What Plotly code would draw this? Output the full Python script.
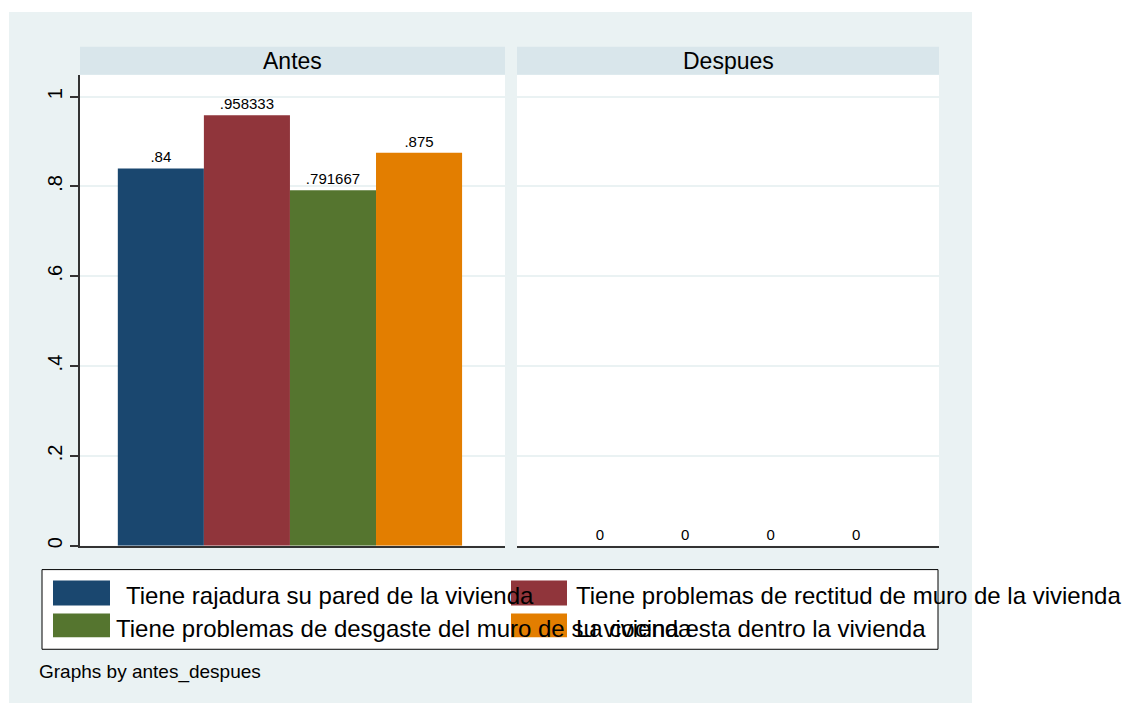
import plotly.graph_objects as go

W, H = 1138, 707
# the page body adds an 8px margin, so positions are shifted back by that much
OFF = 8

# data
panels = ["Antes", "Despues"]
variables = [
    " Tiene rajadura su pared de la vivienda",
    "Tiene problemas de rectitud de muro de la vivienda",
    "Tiene problemas de desgaste del muro de su vivienda",
    "La cocina esta dentro la vivienda",
]
antes = [0.84, 0.958333, 0.791667, 0.875]
despues = [0, 0, 0, 0]
colors = ["#1a476f", "#90353b", "#55752f", "#e37e00"]
ytick_vals = [0, 0.2, 0.4, 0.6, 0.8, 1]
ytick_text = ["0", ".2", ".4", ".6", ".8", "1"]


def px(x):
    return (x - OFF) / W


def py(y):
    return 1 - (y - OFF) / H


def stata_label(v):
    s = f"{v:.6g}"
    if s.startswith("0."):
        s = s[1:]
    return s


FONT = "Liberation Sans, Arial, sans-serif"

fig = go.Figure()

for i, var in enumerate(variables):
    for vals, xa, ya, panel in [(antes, "x", "y", "Antes"), (despues, "x2", "y2", "Despues")]:
        fig.add_trace(go.Bar(
            x=[panel],
            y=[vals[i]],
            xaxis=xa,
            yaxis=ya,
            name=var,
            marker=dict(color=colors[i], line=dict(width=0)),
            text=[stata_label(vals[i])],
            textposition="outside",
            textfont=dict(size=15, color="black", family=FONT),
            cliponaxis=False,
            showlegend=False,
        ))

# background, panel areas, strip headers
shapes = [
    dict(type="rect", xref="paper", yref="paper", x0=px(9), x1=px(972), y0=py(706), y1=py(12),
         fillcolor="#eaf2f3", line=dict(width=0), layer="below"),
]
panel_px = [(80, 505), (517, 939)]
annotations = []
for (x0, x1), name in zip(panel_px, panels):
    shapes.append(dict(type="rect", xref="paper", yref="paper", x0=px(x0), x1=px(x1), y0=py(548), y1=py(75),
                       fillcolor="white", line=dict(width=0), layer="below"))
    shapes.append(dict(type="rect", xref="paper", yref="paper", x0=px(x0), x1=px(x1), y0=py(75), y1=py(47),
                       fillcolor="#d9e6eb", line=dict(width=0), layer="below"))
    annotations.append(dict(text=name, xref="paper", yref="paper", x=px((x0 + x1) / 2), y=py(61),
                            xanchor="center", yanchor="middle", showarrow=False,
                            font=dict(size=23, color="black", family=FONT)))

# legend box
shapes.append(dict(type="rect", xref="paper", yref="paper", x0=px(42), x1=px(938), y0=py(652), y1=py(572),
                   fillcolor="white", line=dict(color="black", width=1), layer="below"))
swatches = [(53, 110, 583, 608), (511, 567, 583, 608), (53, 110, 616, 640), (511, 567, 616, 640)]
text_x = [124, 574, 114, 574]
for i, (sx0, sx1, sy0, sy1) in enumerate(swatches):
    shapes.append(dict(type="rect", xref="paper", yref="paper", x0=px(sx0), x1=px(sx1), y0=py(sy1), y1=py(sy0),
                       fillcolor=colors[i], line=dict(width=0)))
    annotations.append(dict(text=variables[i].strip(),
                            xref="paper", yref="paper", x=px(text_x[i]), y=py((sy0 + sy1) / 2 + 3),
                            xanchor="left", yanchor="middle", showarrow=False,
                            font=dict(size=24, color="black", family=FONT)))

annotations.append(dict(text="Graphs by antes_despues", xref="paper", yref="paper", x=px(37), y=py(675),
                        xanchor="left", yanchor="middle", showarrow=False,
                        font=dict(size=19, color="black", family=FONT)))

axis_common = dict(showticklabels=False, ticks="", showgrid=False, zeroline=False,
                   showline=True, linecolor="#333333", linewidth=1.5, fixedrange=True)

fig.update_layout(
    width=W,
    height=H,
    margin=dict(l=0, r=0, t=0, b=0),
    paper_bgcolor="white",
    plot_bgcolor="rgba(0,0,0,0)",
    font=dict(family=FONT, color="black"),
    barmode="group",
    bargap=0.19,
    bargroupgap=0,
    showlegend=False,
    xaxis=dict(domain=[px(80), px(505)], range=[-0.494, 0.506], anchor="y", **axis_common),
    xaxis2=dict(domain=[px(517), px(939)], range=[-0.5, 0.5], anchor="y2", **axis_common),
    yaxis=dict(domain=[py(548), py(75)], range=[0, 1.0488], anchor="x",
               tickvals=ytick_vals, ticktext=ytick_text, tickangle=-90,
               ticks="outside", ticklen=8, tickcolor="#333333", tickwidth=1.5,
               tickfont=dict(size=20, color="black", family=FONT),
               showline=True, linecolor="#333333", linewidth=1.5,
               showgrid=True, gridcolor="#eaf2f3", gridwidth=1.5, zeroline=False, fixedrange=True),
    yaxis2=dict(domain=[py(548), py(75)], range=[0, 1.0488], anchor="x2", matches="y",
                tickvals=ytick_vals, showticklabels=False, ticks="", showline=False,
                showgrid=True, gridcolor="#eaf2f3", gridwidth=1.5, zeroline=False, fixedrange=True),
    shapes=shapes,
    annotations=annotations,
)

fig.write_html("out.html")
